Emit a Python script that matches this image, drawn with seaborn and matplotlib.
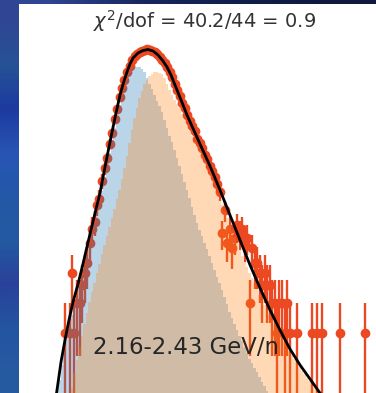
import numpy as np
import pandas as pd
import matplotlib
matplotlib.use("Agg")
import matplotlib.pyplot as plt
import seaborn as sns

# ---------------------------------------------------------------------------
# Fit summary and energy bin
# ---------------------------------------------------------------------------
chi2_value = 40.2
ndof = 44
chi2_per_dof = 0.9
energy_label = "2.16-2.43 GeV/n"

# ---------------------------------------------------------------------------
# Reconstructed-mass binning (first bin centre and bin width)
# ---------------------------------------------------------------------------
first_center = 3.75
bin_width = 0.05

# Observed counts per bin
data_counts = [
    0, 0, 0, 1, 0, 1, 4, 1, 2, 2,
    3, 4, 5, 8, 11, 13, 19, 22, 33, 45,
    56, 78, 100, 138, 172, 230, 285, 340, 410, 470,
    540, 585, 620, 640, 665, 670, 690, 675, 668, 640,
    612, 580, 538, 500, 455, 410, 360, 308, 270, 232,
    200, 178, 150, 132, 118, 104, 88, 80, 71, 60,
    55, 47, 42, 36, 31, 26, 10, 17, 8, 11,
    7, 9, 12, 10, 11, 8, 9, 2, 7, 5,
    5, 4, 3, 4, 3, 3, 2, 2, 1, 2,
    2, 1, 2, 1, 0, 0, 1, 0, 0, 0,
    0, 0, 1, 0, 1, 0, 1, 0, 0, 0,
    0, 0, 0, 1, 0, 0, 0, 0, 0, 0,
    0, 0, 0, 1, 0,
]

# Template of the lighter isotope
light_template = [
    0.22, 0.335, 0.48, 0.66, 0.89, 1.18, 1.53, 1.92, 2.37, 2.95,
    3.72, 4.74, 6.06, 7.74, 9.86, 12.6, 15.8, 20.0, 26.6, 35.9,
    47.9, 63.8, 85.1, 112, 146, 189, 234, 285, 339, 395,
    437, 452, 457, 452, 437, 407, 355, 309, 275, 240,
    209, 186, 162, 135, 111, 93.3, 80.4, 67.6, 56.2, 46.8,
    38.9, 32.7, 27.2, 22.4, 18.4, 15.1, 12.6, 10.8, 9.33, 7.94,
    6.84, 5.89, 5.01, 4.27, 3.67, 3.16, 2.69, 2.29, 1.95, 1.64,
    1.41, 1.23, 1.08, 0.944, 0.832, 0.724, 0.631, 0.550, 0.501, 0.447,
    0.403, 0.363, 0.327, 0.295, 0.263, 0.240, 0.214, 0.19, 0.17,
]

# Template of the heavier isotope
heavy_template = [
    0, 0, 0, 0, 0, 0.20, 0.28, 0.40, 0.54, 0.72,
    0.93, 1.22, 1.58, 2.04, 2.55, 3.16, 3.94, 4.90, 6.11, 7.59,
    9.38, 11.5, 14.2, 17.5, 21.7, 26.9, 34.5, 44.5, 59.4, 80.2,
    106, 140, 178, 224, 264, 307, 340, 373, 391, 405,
    404, 399, 389, 355, 309, 269, 240, 214, 195, 176,
    155, 138, 121, 105, 92.5, 81.5, 73.1, 65.9, 58.3, 51.4,
    44.9, 39.1, 33.7, 29.0, 25.2, 22.0, 19.0, 16.3, 14.1, 12.1,
    10.5, 9.16, 7.91, 6.81, 5.92, 5.15, 4.53, 3.99, 3.52, 3.10,
    2.73, 2.40, 2.14, 1.91, 1.70, 1.51, 1.36, 1.23, 1.11, 1.00,
    0.90, 0.81, 0.73, 0.66, 0.60, 0.55, 0.50, 0.455, 0.42, 0.386,
    0.356, 0.329, 0.303, 0.280, 0.258, 0.238, 0.220,
]

# Fitted model curve
fit_mass = [
    3.71, 3.75, 3.83, 3.91, 3.99, 4.07, 4.17, 4.25, 4.33, 4.41,
    4.51, 4.61, 4.69, 4.77, 4.85, 4.93, 5.01, 5.09, 5.15, 5.21,
    5.27, 5.37, 5.47, 5.57, 5.67, 5.77, 5.87, 5.95, 6.03, 6.11,
    6.19, 6.27, 6.35, 6.45, 6.61, 6.81, 7.01, 7.21, 7.41, 7.61,
    7.81, 8.01, 8.21, 8.41, 8.61, 8.81, 9.01, 9.11,
]
fit_counts = [
    0.20, 0.269, 0.513, 0.851, 1.35, 2.04, 3.09, 4.47, 6.61, 9.77,
    15.8, 25.1, 40.7, 64.6, 102, 158, 240, 331, 407, 490,
    562, 631, 668, 684, 661, 603, 525, 457, 380, 302,
    240, 191, 151, 117, 77.6, 46.8, 26.9, 15.1, 8.51, 4.79,
    2.82, 1.70, 1.07, 0.692, 0.479, 0.347, 0.251, 0.214,
]

# ---------------------------------------------------------------------------
# Styling
# ---------------------------------------------------------------------------
sns.set_theme(style="white")
plt.rcParams["font.family"] = ["DejaVu Sans"]

light_color = "#1f77b4"
heavy_color = "#ff7f0e"
data_color = "#ec4822"

fig = plt.figure(figsize=(3.76, 3.93), dpi=100)

# Slide backdrop (blue gradient)
left_col = np.array([
    [48, 70, 148], [38, 82, 150], [28, 58, 160], [40, 85, 180], [35, 88, 168],
    [35, 90, 160], [42, 65, 155], [35, 85, 160], [38, 90, 160],
]) / 255.0
n_rows = len(left_col)
cols = [left_col]
for tone in ([25, 38, 95], [18, 30, 75], [15, 25, 62]):
    cols.append(np.tile(np.array(tone) / 255.0, (n_rows, 1)))
backdrop = np.stack(cols, axis=1)
bg = fig.add_axes([0, 0, 1, 1], zorder=-10)
bg.imshow(backdrop, extent=(0, 1, 0, 1), aspect="auto", interpolation="bilinear")
bg.set_axis_off()

# White plotting panel
ax = fig.add_axes([19 / 376, 0, 357 / 376, 389 / 393])
ax.set_facecolor("white")
ax.set_yscale("log")

n_data = len(data_counts)
centers = first_center + bin_width * np.arange(n_data)
edges = first_center - bin_width / 2 + bin_width * np.arange(n_data + 1)

# Observed counts with Poisson errors
counts = np.asarray(data_counts, dtype=float)
has_data = counts > 0
ax.errorbar(
    centers[has_data], counts[has_data], yerr=np.sqrt(counts[has_data]),
    fmt="o", ms=6, color=data_color, mec=data_color, elinewidth=1.7,
    capsize=0, zorder=1,
)

# Isotope templates as filled step histograms
for template, color in ((light_template, light_color), (heavy_template, heavy_color)):
    n_t = len(template)
    frame = pd.DataFrame({"mass": centers[:n_t], "count": template})
    sns.histplot(
        data=frame, x="mass", weights="count", bins=list(edges[: n_t + 1]),
        element="step", fill=True, color=color, alpha=0.3, linewidth=0,
        ax=ax, zorder=2, legend=False,
    )

# Fitted model
fit_frame = pd.DataFrame({"mass": fit_mass, "count": fit_counts})
sns.lineplot(data=fit_frame, x="mass", y="count", color="black", linewidth=2.0,
             sort=False, ax=ax, zorder=3)

ax.set_xlim(2.99, 10.13)
ax.set_ylim(10 ** -0.6, 10 ** 3.29)
ax.set_xlabel("")
ax.set_ylabel("")
ax.tick_params(which="both", left=False, bottom=False,
               labelleft=False, labelbottom=False)
for spine in ax.spines.values():
    spine.set_visible(False)

ax.text(0.207, 0.116, energy_label, transform=ax.transAxes, fontsize=16.4,
        color="#262626", ha="left", va="center", zorder=5)

fig.text(205 / 376, 1 - 21 / 393,
         rf"$\chi^2$/dof = {chi2_value}/{ndof} = {chi2_per_dof}",
         ha="center", va="center", fontsize=14, color="#333333")

fig.savefig("out.png", dpi=100)
